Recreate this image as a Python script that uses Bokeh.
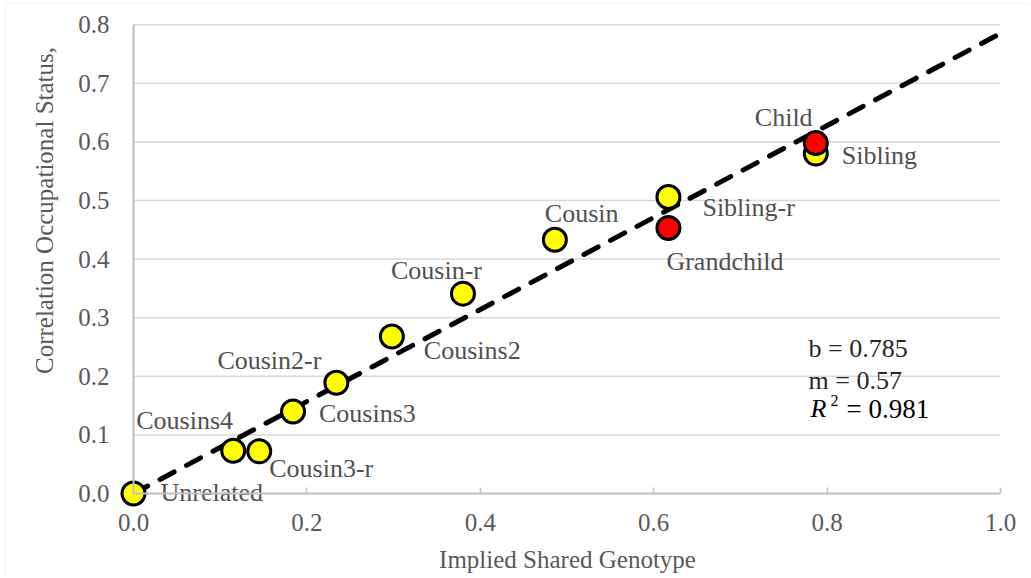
import math
from bokeh.plotting import figure
from bokeh.models import Range1d, Label, FixedTicker, PrintfTickFormatter, ColumnDataSource, BoxAnnotation
from bokeh.core.properties import value
from bokeh.embed import file_html
from bokeh.resources import INLINE

# ---- data ----
names = ["Unrelated", "Cousins4", "Cousin3-r", "Cousins3", "Cousin2-r", "Cousins2",
         "Cousin-r", "Cousin", "Sibling-r", "Grandchild", "Sibling", "Child"]
genotype = [0.0, 0.115, 0.145, 0.184, 0.234, 0.298, 0.380, 0.486, 0.617, 0.617, 0.787, 0.787]
correlation = [0.0, 0.073, 0.072, 0.140, 0.189, 0.268, 0.341, 0.433, 0.506, 0.453, 0.580, 0.598]
lineal = [False, False, False, False, False, False, False, False, False, True, False, True]

fit_b = 0.785
fit_m = 0.57
fit_r2 = 0.981
line_x = [0.0, 1.0]

x_ticks = [0.0, 0.2, 0.4, 0.6, 0.8, 1.0]
y_ticks = [0.0, 0.1, 0.2, 0.3, 0.4, 0.5, 0.6, 0.7, 0.8]

x_title = "Implied Shared Genotype"
y_title = "Correlation Occupational Status,"

# ---- label styling (pixel offsets) ----
label_dx = [27, -97, 10, 26, -119, 32, -72, -10, 34, -2, 26, -61]
label_dy = [-1, -30, 17, 2, -22, 14, -23, -26, 11, 33, 2, -26]

FONT = "Liberation Serif"
GRAY = "#595959"

# ---- layout: frame covers the whole canvas; axes are placed at the origin ----
W, H = 1030, 576
X0_PX, X_SCALE = 133.0, 867.0   # pixel of x=0, pixels per unit
Y0_PX, Y_SCALE = 493.0, 586.0   # pixel of y=0, pixels per unit

def dx(px):
    return (px - X0_PX) / X_SCALE

def dy(py):
    return (Y0_PX - py) / Y_SCALE

p = figure(width=W, height=H,
           x_range=Range1d(dx(0), dx(W)), y_range=Range1d(dy(H), dy(0)),
           output_backend="svg", toolbar_location=None,
           min_border_left=0, min_border_right=0, min_border_top=0, min_border_bottom=0)
p.outline_line_color = None
p.background_fill_color = "white"
p.border_fill_color = "white"
p.grid.visible = False

# outer chart border (only its left and top edges are in view)
p.add_layout(BoxAnnotation(left=dx(5), top=dy(3), right=dx(W + 50), bottom=dy(H + 50),
                           fill_color=None, line_color="#d9d9d9", line_width=1.5))

# horizontal gridlines from the y ticks
grid_y = [t for t in y_ticks if t > 0]
p.segment(x0=[0.0] * len(grid_y), y0=grid_y, x1=[1.0] * len(grid_y), y1=grid_y,
          line_color="#d9d9d9", line_width=1.5)

xa = p.xaxis[0]
xa.fixed_location = 0
xa.bounds = (0, 1)
xa.ticker = FixedTicker(ticks=x_ticks)
xa.formatter = PrintfTickFormatter(format="%.1f")
xa.axis_line_color = "#bfbfbf"
xa.axis_line_width = 2
xa.major_tick_in = 6
xa.major_tick_out = 0
xa.major_tick_line_color = "#bfbfbf"
xa.major_tick_line_width = 1.5
xa.minor_tick_line_color = None
xa.major_label_standoff = 20
xa.major_label_text_font = FONT
xa.major_label_text_font_size = "25px"
xa.major_label_text_color = GRAY

ya = p.yaxis[0]
ya.fixed_location = 0
ya.bounds = (0, 0.8)
ya.ticker = FixedTicker(ticks=y_ticks)
ya.formatter = PrintfTickFormatter(format="%.1f")
ya.axis_line_color = "#bfbfbf"
ya.axis_line_width = 2
ya.major_tick_in = 0
ya.major_tick_out = 0
ya.major_tick_line_color = None
ya.minor_tick_line_color = None
ya.major_label_standoff = 24
ya.major_label_text_font = FONT
ya.major_label_text_font_size = "25px"
ya.major_label_text_color = GRAY

# trend line
p.line(x=line_x, y=[fit_b * v for v in line_x], line_color="black", line_width=5,
       line_dash="16 14", line_cap="round")

# points
src_y = ColumnDataSource(dict(x=[g for g, l in zip(genotype, lineal) if not l],
                              y=[c for c, l in zip(correlation, lineal) if not l]))
src_r = ColumnDataSource(dict(x=[g for g, l in zip(genotype, lineal) if l],
                              y=[c for c, l in zip(correlation, lineal) if l]))
p.scatter("x", "y", source=src_y, size=23, fill_color="#ffff00", line_color="black", line_width=3)
p.scatter("x", "y", source=src_r, size=23, fill_color="#ff0000", line_color="black", line_width=3)

# point labels
lab = ColumnDataSource(dict(x=genotype, y=correlation, t=names, dx=label_dx, dy=label_dy))
p.text("x", "y", text="t", source=lab, x_offset="dx", y_offset="dy",
       text_font=value(FONT), text_font_size="26px", text_color="#505050",
       text_align="left", text_baseline="middle")

# axis titles
p.add_layout(Label(x=dx(567), y=dy(559), text=x_title, text_font=FONT, text_font_size="25px",
                   text_color=GRAY, text_align="center", text_baseline="middle"))
p.add_layout(Label(x=dx(44), y=dy(210), text=y_title, angle=math.pi / 2, text_font=FONT,
                   text_font_size="25px", text_color=GRAY, text_align="center",
                   text_baseline="middle"))

# fit annotation
p.add_layout(Label(x=dx(808), y=dy(348), text="b = %.3f" % fit_b, text_font=FONT,
                   text_font_size="26px", text_color="#262626", text_baseline="middle"))
p.add_layout(Label(x=dx(808), y=dy(380), text="m = %.2f" % fit_m, text_font=FONT,
                   text_font_size="26px", text_color="#262626", text_baseline="middle"))
p.add_layout(Label(x=dx(810), y=dy(408), text="R", text_font=FONT, text_font_style="italic",
                   text_font_size="26px", text_color="black", text_baseline="middle"))
p.add_layout(Label(x=dx(830), y=dy(400), text="2", text_font=FONT,
                   text_font_size="16px", text_color="black", text_baseline="middle"))
p.add_layout(Label(x=dx(846), y=dy(408), text="= %.3f" % fit_r2, text_font=FONT,
                   text_font_size="27px", text_color="black", text_baseline="middle"))

open("out.html", "w").write(file_html(p, INLINE))
